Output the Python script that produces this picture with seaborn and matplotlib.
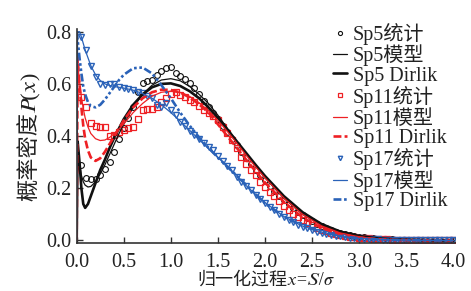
import numpy as np
import matplotlib
matplotlib.use('Agg')
import matplotlib.pyplot as plt
import seaborn as sns

# model / Dirlik curves
line_x = [0, 0.01, 0.03, 0.05, 0.07, 0.09, 0.12, 0.15, 0.2, 0.25, 0.3, 0.35, 0.4, 0.45, 0.5,
          0.6, 0.7, 0.8, 0.9, 1.0, 1.1, 1.2, 1.3, 1.4, 1.5, 1.6, 1.7, 1.8, 1.9, 2.0,
          2.2, 2.4, 2.6, 2.8, 3.0, 3.2, 3.4, 3.6, 3.8, 4.0]

sp5_model = [0, 0.36, 0.30, 0.25, 0.225, 0.212, 0.205, 0.207, 0.225, 0.255, 0.29, 0.33, 0.37, 0.41, 0.445,
             0.51, 0.56, 0.595, 0.615, 0.62, 0.612, 0.59, 0.56, 0.525, 0.48, 0.43, 0.38, 0.33, 0.285, 0.24,
             0.162, 0.10, 0.058, 0.031, 0.015, 0.007, 0.003, 0.0015, 0.0007, 0.0003]
sp5_dirlik = [0, 0.38, 0.30, 0.20, 0.14, 0.125, 0.14, 0.17, 0.22, 0.27, 0.31, 0.355, 0.395, 0.43, 0.465,
              0.52, 0.56, 0.587, 0.60, 0.602, 0.592, 0.572, 0.545, 0.51, 0.47, 0.425, 0.38, 0.335, 0.29, 0.247,
              0.17, 0.108, 0.063, 0.034, 0.017, 0.008, 0.004, 0.002, 0.001, 0.0]
sp11_model = [0, 0.68, 0.61, 0.55, 0.505, 0.47, 0.435, 0.41, 0.39, 0.383, 0.385, 0.395, 0.41, 0.428, 0.447,
              0.49, 0.525, 0.553, 0.568, 0.572, 0.567, 0.552, 0.528, 0.497, 0.46, 0.418, 0.373, 0.327, 0.282, 0.24,
              0.163, 0.10, 0.056, 0.029, 0.014, 0.006, 0.0025, 0.001, 0.0004, 0.0002]
sp11_dirlik = [0, 0.70, 0.60, 0.51, 0.44, 0.39, 0.345, 0.318, 0.305, 0.315, 0.34, 0.37, 0.40, 0.43, 0.46,
               0.51, 0.545, 0.568, 0.578, 0.577, 0.567, 0.548, 0.522, 0.49, 0.445, 0.40, 0.355, 0.31, 0.265, 0.222,
               0.148, 0.088, 0.048, 0.024, 0.011, 0.005, 0.002, 0.001, 0.0005, 0.0002]
sp17_model = [0, 0.80, 0.80, 0.78, 0.755, 0.73, 0.70, 0.67, 0.635, 0.613, 0.60, 0.594, 0.59, 0.587, 0.584,
              0.576, 0.563, 0.545, 0.52, 0.49, 0.457, 0.422, 0.387, 0.352, 0.318, 0.284, 0.25, 0.21, 0.177, 0.145,
              0.092, 0.055, 0.032, 0.017, 0.008, 0.004, 0.002, 0.0008, 0.0003, 0.0001]
sp17_dirlik = [0.80, 0.77, 0.70, 0.64, 0.59, 0.56, 0.53, 0.515, 0.51, 0.52, 0.54, 0.565, 0.59, 0.615, 0.635,
               0.66, 0.663, 0.64, 0.595, 0.545, 0.49, 0.44, 0.395, 0.355, 0.318, 0.283, 0.248, 0.213, 0.178, 0.142,
               0.092, 0.056, 0.032, 0.017, 0.008, 0.004, 0.002, 0.001, 0.0004, 0.0002]

# statistics (markers), x = 0.05 ... 4.0
stat_x = np.round(np.arange(1, 81) * 0.05, 2)

sp5_stat = [0.29, 0.24, 0.235, 0.235, 0.25, 0.275, 0.30, 0.34, 0.39, 0.43,
            0.47, 0.51, 0.57, 0.605, 0.61, 0.615, 0.635, 0.65, 0.66, 0.665,
            0.64, 0.63, 0.62, 0.605, 0.585, 0.56, 0.535, 0.51, 0.49, 0.465,
            0.44, 0.415, 0.39, 0.365, 0.34, 0.315, 0.295, 0.27, 0.25, 0.23,
            0.21, 0.19, 0.17, 0.155, 0.14, 0.125, 0.11, 0.097, 0.085, 0.074,
            0.064, 0.055, 0.047, 0.04, 0.034, 0.029, 0.024, 0.02, 0.017, 0.014,
            0.012, 0.01, 0.008, 0.007, 0.006, 0.005, 0.004, 0.0035, 0.003, 0.0025,
            0.002, 0.0018, 0.0015, 0.0012, 0.001, 0.0008, 0.0006, 0.0005, 0.0004, 0.0003]
sp11_stat = [0.55, 0.51, 0.45, 0.44, 0.435, 0.435, 0.40, 0.405, 0.415, 0.425,
             0.43, 0.435, 0.465, 0.50, 0.505, 0.505, 0.51, 0.53, 0.545, 0.56,
             0.57, 0.558, 0.55, 0.54, 0.53, 0.515, 0.50, 0.49, 0.478, 0.46,
             0.435, 0.41, 0.385, 0.355, 0.32, 0.295, 0.27, 0.25, 0.225, 0.205,
             0.185, 0.17, 0.152, 0.133, 0.117, 0.103, 0.09, 0.078, 0.067, 0.058,
             0.049, 0.042, 0.035, 0.03, 0.026, 0.022, 0.018, 0.015, 0.012, 0.01,
             0.009, 0.008, 0.007, 0.006, 0.005, 0.004, 0.0035, 0.003, 0.0025, 0.002,
             0.0017, 0.0014, 0.0012, 0.001, 0.0008, 0.0006, 0.0005, 0.0004, 0.0003, 0.0002]
sp17_stat = [0.78, 0.73, 0.67, 0.625, 0.60, 0.595, 0.598, 0.60, 0.59, 0.585,
             0.58, 0.575, 0.57, 0.565, 0.555, 0.545, 0.52, 0.51, 0.525, 0.50,
             0.48, 0.455, 0.437, 0.42, 0.405, 0.39, 0.375, 0.36, 0.345, 0.325,
             0.305, 0.285, 0.27, 0.245, 0.225, 0.21, 0.195, 0.175, 0.16, 0.143,
             0.128, 0.115, 0.10, 0.09, 0.08, 0.07, 0.06, 0.053, 0.046, 0.04,
             0.034, 0.03, 0.026, 0.022, 0.019, 0.016, 0.013, 0.011, 0.009, 0.008,
             0.0075, 0.006, 0.005, 0.004, 0.0035, 0.003, 0.0025, 0.002, 0.0016, 0.0013,
             0.001, 0.0008, 0.0006, 0.0005, 0.0004, 0.0003, 0.0002, 0.0002, 0.0001, 0.0001]

x_ticks = [0.0, 0.5, 1.0, 1.5, 2.0, 2.5, 3.0, 3.5, 4.0]
y_ticks = [0.0, 0.2, 0.4, 0.6, 0.8]

black = '#111111'
red = '#ee2024'
blue = '#2a62b8'

sns.set_style('ticks')
plt.rcParams['font.family'] = ['Liberation Serif', 'Noto Sans CJK SC', 'STIXGeneral']
plt.rcParams['font.size'] = 14.5

fig = plt.figure(figsize=(4.71, 2.91), dpi=100)
ax = fig.add_axes([0.1628, 0.1646, 0.8037, 0.7354])

# statistics markers
sns.lineplot(x=stat_x, y=sp5_stat, ax=ax, ls='', marker='o', ms=4.2, mfc='none', mec=black, mew=0.8,
             label='Sp5统计')
sns.lineplot(x=stat_x, y=sp11_stat, ax=ax, ls='', marker='s', ms=3.8, mfc='none', mec=red, mew=0.9,
             label='Sp11统计')
sns.lineplot(x=stat_x, y=sp17_stat, ax=ax, ls='', marker='v', ms=4.5, mfc='none', mec=blue, mew=1.0,
             label='Sp17统计')

# model and Dirlik curves
sns.lineplot(x=line_x, y=sp5_model, ax=ax, color=black, lw=0.9, sort=False, label='Sp5模型')
sns.lineplot(x=line_x, y=sp5_dirlik, ax=ax, color=black, lw=1.9, sort=False, label='Sp5 Dirlik')
sns.lineplot(x=line_x, y=sp11_model, ax=ax, color=red, lw=0.9, sort=False, label='Sp11模型')
sns.lineplot(x=line_x, y=sp11_dirlik, ax=ax, color=red, lw=1.9, sort=False, dashes=False,
             ls=(0, (3, 1.2)), label='Sp11 Dirlik')
sns.lineplot(x=line_x, y=sp17_model, ax=ax, color=blue, lw=0.9, sort=False, label='Sp17模型')
sns.lineplot(x=line_x, y=sp17_dirlik, ax=ax, color=blue, lw=1.9, sort=False,
             ls=(0, (3, 1, 1, 1, 1, 1)), label='Sp17 Dirlik')

ax.set_xlim(0, 4.02)
ax.set_ylim(-0.01, 0.81)
ax.set_xticks(x_ticks)
ax.set_yticks(y_ticks)
ax.set_xticklabels([f'{v:.1f}' for v in x_ticks])
ax.set_yticklabels([f'{v:.1f}' for v in y_ticks])
ax.tick_params(direction='in', length=4, width=1.0, colors='#333333', labelcolor='#222222')
ax.tick_params(axis='x', pad=7)
ax.tick_params(axis='y', pad=3.5)
sns.despine(ax=ax)
for s in ['left', 'bottom']:
    ax.spines[s].set_linewidth(1.2)
    ax.spines[s].set_color('#333333')

ax.set_ylabel('概率密度𝑃(𝑥)', fontsize=16, labelpad=4, color='#222222')
ax.set_xlabel('归一化过程𝑥=𝑆/𝜎', fontsize=13, labelpad=0, color='#222222')

h, l = ax.get_legend_handles_labels()
order = ['Sp5统计', 'Sp5模型', 'Sp5 Dirlik', 'Sp11统计', 'Sp11模型', 'Sp11 Dirlik',
         'Sp17统计', 'Sp17模型', 'Sp17 Dirlik']
hd = dict(zip(l, h))
ax.legend([hd[k] for k in order], order, loc='upper left', bbox_to_anchor=(0.677, 1.03),
          frameon=False, handlelength=0.7, handletextpad=0.3, labelspacing=0.0,
          borderaxespad=0.0, borderpad=0.0, markerscale=0.7, fontsize=14.5, labelcolor='#222222')

fig.savefig('out.png', dpi=100)
